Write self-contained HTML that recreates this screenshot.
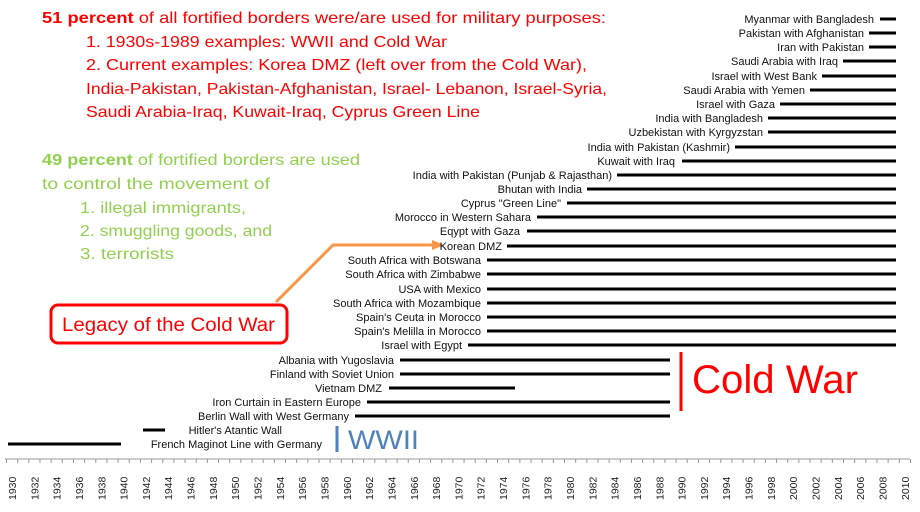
<!DOCTYPE html>
<html><head><meta charset="utf-8"><style>
html,body{margin:0;padding:0;background:#fff;}
svg{display:block;font-family:"Liberation Sans",sans-serif;}
</style></head><body>
<svg width="920" height="512" viewBox="0 0 920 512" xmlns="http://www.w3.org/2000/svg">
<g font-size="16" fill="#ff0000">
<text x="42" y="23" textLength="564" lengthAdjust="spacingAndGlyphs"><tspan font-weight="bold">51 percent</tspan> of all fortified borders were/are used for military purposes:</text>
<text x="86" y="47" textLength="361" lengthAdjust="spacingAndGlyphs">1. 1930s-1989 examples: WWII and Cold War</text>
<text x="86" y="70" textLength="501" lengthAdjust="spacingAndGlyphs">2. Current examples: Korea DMZ (left over from the Cold War),</text>
<text x="86" y="94" textLength="521" lengthAdjust="spacingAndGlyphs">India-Pakistan, Pakistan-Afghanistan, Israel- Lebanon, Israel-Syria,</text>
<text x="86" y="117" textLength="394" lengthAdjust="spacingAndGlyphs">Saudi Arabia-Iraq, Kuwait-Iraq, Cyprus Green Line</text>
</g>
<g font-size="16" fill="#92d050">
<text x="42" y="165" textLength="318" lengthAdjust="spacingAndGlyphs"><tspan font-weight="bold">49 percent</tspan> of fortified borders are used</text>
<text x="42" y="189" textLength="228" lengthAdjust="spacingAndGlyphs">to control  the movement of</text>
<text x="80" y="213" textLength="166" lengthAdjust="spacingAndGlyphs">1. illegal immigrants,</text>
<text x="80" y="236" textLength="192" lengthAdjust="spacingAndGlyphs">2. smuggling goods, and</text>
<text x="80" y="259" textLength="94" lengthAdjust="spacingAndGlyphs">3. terrorists</text>
</g>
<polyline points="276,302 333,245 434,245" fill="none" stroke="#f79646" stroke-width="3"/>
<polygon points="432,240 444,245 432,250" fill="#f79646"/>
<rect x="51" y="305" width="236" height="38" rx="7" fill="#fff" stroke="#ff0000" stroke-width="3"/>
<text x="62" y="331" font-size="19" fill="#ff0000" textLength="213" lengthAdjust="spacingAndGlyphs">Legacy of the Cold War</text>
<g stroke="#000" stroke-width="3">
<line x1="880" y1="19" x2="896" y2="19"/>
<line x1="869" y1="33" x2="896" y2="33"/>
<line x1="869" y1="47" x2="896" y2="47"/>
<line x1="843" y1="61" x2="896" y2="61"/>
<line x1="822" y1="76" x2="896" y2="76"/>
<line x1="810" y1="90" x2="896" y2="90"/>
<line x1="780" y1="104" x2="896" y2="104"/>
<line x1="768" y1="118" x2="896" y2="118"/>
<line x1="768" y1="132" x2="896" y2="132"/>
<line x1="735" y1="147" x2="896" y2="147"/>
<line x1="682" y1="161" x2="896" y2="161"/>
<line x1="617" y1="175" x2="896" y2="175"/>
<line x1="587" y1="189" x2="896" y2="189"/>
<line x1="567" y1="203" x2="896" y2="203"/>
<line x1="537" y1="217" x2="896" y2="217"/>
<line x1="527" y1="231" x2="896" y2="231"/>
<line x1="507" y1="246" x2="896" y2="246"/>
<line x1="487" y1="260" x2="896" y2="260"/>
<line x1="487" y1="274" x2="896" y2="274"/>
<line x1="487" y1="289" x2="896" y2="289"/>
<line x1="487" y1="303" x2="896" y2="303"/>
<line x1="487" y1="317" x2="896" y2="317"/>
<line x1="487" y1="331" x2="896" y2="331"/>
<line x1="468" y1="345" x2="896" y2="345"/>
<line x1="400" y1="360" x2="670" y2="360"/>
<line x1="400" y1="374" x2="670" y2="374"/>
<line x1="389" y1="388" x2="515" y2="388"/>
<line x1="367" y1="402" x2="670" y2="402"/>
<line x1="355" y1="416" x2="670" y2="416"/>
<line x1="143" y1="430" x2="165" y2="430"/>
<line x1="8" y1="444" x2="121" y2="444"/>
</g>
<g font-size="11" fill="#111" text-anchor="end">
<text x="874" y="23">Myanmar with Bangladesh</text>
<text x="864" y="37">Pakistan with Afghanistan</text>
<text x="864" y="51">Iran with Pakistan</text>
<text x="838" y="65">Saudi Arabia with Iraq</text>
<text x="817" y="80">Israel with West Bank</text>
<text x="805" y="94">Saudi Arabia with Yemen</text>
<text x="775" y="108">Israel with Gaza</text>
<text x="763" y="122">India with Bangladesh</text>
<text x="763" y="136">Uzbekistan with Kyrgyzstan</text>
<text x="730" y="151">India with Pakistan (Kashmir)</text>
<text x="675" y="165">Kuwait with Iraq</text>
<text x="612" y="179">India with Pakistan (Punjab &amp; Rajasthan)</text>
<text x="582" y="193">Bhutan with India</text>
<text x="561" y="207">Cyprus "Green Line"</text>
<text x="531" y="221">Morocco in Western Sahara</text>
<text x="520" y="235">Eqypt with Gaza</text>
<text x="502" y="250">Korean DMZ</text>
<text x="481" y="264">South Africa with Botswana</text>
<text x="481" y="278">South Africa with Zimbabwe</text>
<text x="481" y="293">USA with Mexico</text>
<text x="481" y="307">South Africa with Mozambique</text>
<text x="481" y="321">Spain's Ceuta in Morocco</text>
<text x="481" y="335">Spain's Melilla in Morocco</text>
<text x="462" y="349">Israel with Egypt</text>
<text x="394" y="364">Albania with Yugoslavia</text>
<text x="394" y="378">Finland with Soviet Union</text>
<text x="382" y="392">Vietnam DMZ</text>
<text x="361" y="406">Iron Curtain in Eastern Europe</text>
<text x="349" y="420">Berlin Wall with West Germany</text>
<text x="282" y="434">Hitler's Atantic Wall</text>
<text x="322" y="448">French Maginot Line with Germany</text>
</g>
<line x1="681" y1="352" x2="681" y2="411" stroke="#ff0000" stroke-width="3"/>
<text x="692" y="393" font-size="40" fill="#ff0000" textLength="166" lengthAdjust="spacingAndGlyphs">Cold War</text>
<line x1="337" y1="426" x2="337" y2="452" stroke="#4f81bd" stroke-width="3"/>
<text x="348" y="449" font-size="27" fill="#4f81bd" textLength="71" lengthAdjust="spacingAndGlyphs">WWII</text>
<line x1="5" y1="459" x2="910" y2="459" stroke="#999" stroke-width="1"/>
<g id="ticks" stroke="#999" stroke-width="1"></g>
<g font-size="10.5" fill="#222" id="labs"></g>
<script>
(function(){
var t=document.getElementById('ticks'),l=document.getElementById('labs'),ns='http://www.w3.org/2000/svg';
for(var i=0;i<=81;i++){var x=6.5+i*11.16;var e=document.createElementNS(ns,'line');e.setAttribute('x1',x);e.setAttribute('x2',x);e.setAttribute('y1',459);e.setAttribute('y2',463);t.appendChild(e);}
for(var y=1930;y<=2010;y+=2){var x=12+(y-1930)*11.16;var e=document.createElementNS(ns,'text');e.setAttribute('transform','translate('+(x+4)+',500) rotate(-90)');e.textContent=y;l.appendChild(e);}
})();
</script>
</svg>
</body></html>
